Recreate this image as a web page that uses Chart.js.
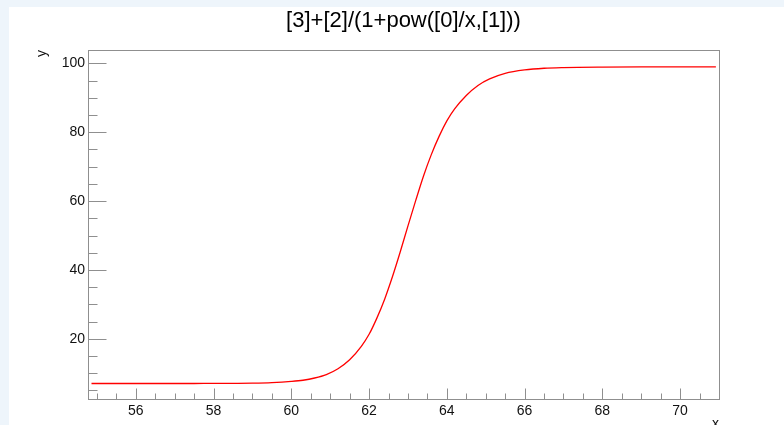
<!DOCTYPE html>
<html>
<head>
<meta charset="utf-8">
<script src="https://cdn.jsdelivr.net/npm/chart.js@4.4.1/dist/chart.umd.min.js"></script>
<style>
html,body{margin:0;padding:0;background:#eef5fb;}
#wrap{width:784px;height:425px;position:relative;}
</style>
</head>
<body>
<div id="wrap"><canvas id="c" width="784" height="425"></canvas></div>
<script>
// ---- data ----
const xValues = [54.86, 55.5, 56, 56.5, 57, 57.5, 58, 58.5, 59, 59.5, 60, 60.3, 60.6, 60.9, 61.2, 61.5, 61.8, 62.0, 62.2, 62.4, 62.6, 62.8, 63.0, 63.2, 63.4, 63.6, 63.8, 64.0, 64.2, 64.5, 64.8, 65.1, 65.5, 66, 66.5, 67, 68, 69, 70, 70.92];
const yValues = [7.0, 7.0, 7.0, 7.0, 7.0, 7.01, 7.02, 7.05, 7.1, 7.25, 7.6, 7.95, 8.6, 9.6, 11.3, 13.9, 17.8, 21.3, 26.0, 31.5, 38.0, 45.2, 52.8, 60.2, 67.3, 73.5, 78.8, 83.3, 86.8, 90.7, 93.6, 95.5, 97.1, 98.1, 98.6, 98.8, 98.95, 99.0, 99.0, 99.0];
const xTickLabels = [56, 58, 60, 62, 64, 66, 68, 70];
const yTickLabels = [20, 40, 60, 80, 100];
const titleText = '[3]+[2]/(1+pow([0]/x,[1]))';
const xAxisTitle = 'x';
const yAxisTitle = 'y';

const FONT = "'Liberation Sans', Arial, Helvetica, sans-serif";
const FRAME = '#8f8f8f';

function minorList(from, to, step) {
  const out = [];
  for (let i = 0; from + i * step <= to + 1e-9; i++) out.push(+(from + i * step).toFixed(6));
  return out;
}
const xMinor = minorList(55, 70.5, 0.5);
const yMinor = minorList(5, 100, 5);

const points = xValues.map((x, i) => ({x: x, y: yValues[i]}));

const framePlugin = {
  id: 'rootFrame',
  beforeDraw(chart) {
    const ctx = chart.ctx;
    ctx.save();
    ctx.fillStyle = '#eef5fb';
    ctx.fillRect(0, 0, chart.width, chart.height);
    ctx.fillStyle = '#ffffff';
    ctx.fillRect(9, 7, chart.width - 9, chart.height - 7);
    ctx.restore();
  },
  afterDatasetsDraw(chart) {
    const {ctx, chartArea: a, scales: {x, y}} = chart;
    ctx.save();
    ctx.strokeStyle = FRAME;
    ctx.lineWidth = 1;
    ctx.beginPath();
    x.ticks.forEach(t => {
      const px = Math.round(x.getPixelForValue(t.value)) + 0.5;
      const len = xTickLabels.includes(t.value) ? 10.5 : 5.5;
      ctx.moveTo(px, a.bottom);
      ctx.lineTo(px, a.bottom - len);
    });
    y.ticks.forEach(t => {
      const py = Math.round(y.getPixelForValue(t.value)) + 0.5;
      const len = yTickLabels.includes(t.value) ? 18.5 : 9.5;
      ctx.moveTo(a.left, py);
      ctx.lineTo(a.left + len, py);
    });
    ctx.stroke();
    ctx.strokeRect(Math.round(a.left) + 0.5, Math.round(a.top) + 0.5,
                   Math.round(a.right - a.left), Math.round(a.bottom - a.top));
    ctx.restore();
  }
};

new Chart(document.getElementById('c'), {
  type: 'scatter',
  data: {
    datasets: [{
      data: points,
      showLine: true,
      borderColor: '#ff0000',
      borderWidth: 1.3,
      pointRadius: 0,
      pointHoverRadius: 0,
      cubicInterpolationMode: 'monotone',
      fill: false
    }]
  },
  options: {
    responsive: false,
    animation: false,
    events: [],
    layout: {padding: {left: 0, right: 65, top: 0, bottom: 0}},
    plugins: {
      legend: {display: false},
      tooltip: {enabled: false},
      title: {
        display: true,
        text: titleText,
        fullSize: false,
        color: '#000',
        font: {family: FONT, size: 22, weight: 'normal', lineHeight: 1.2},
        padding: {top: 8, bottom: 15.6}
      }
    },
    scales: {
      x: {
        type: 'linear',
        min: 54.77,
        max: 71.0,
        afterBuildTicks: s => { s.ticks = xMinor.map(v => ({value: v})); },
        afterFit: s => { s.height = 26; },
        grid: {display: false, drawTicks: false},
        border: {display: false},
        ticks: {
          autoSkip: false, maxRotation: 0, minRotation: 0,
          padding: 4, color: '#111',
          font: {family: FONT, size: 14},
          callback: v => xTickLabels.includes(v) ? String(v) : ''
        },
        title: {
          display: true, text: xAxisTitle, align: 'end', color: '#111',
          font: {family: FONT, size: 14, lineHeight: 1.2},
          padding: {top: 0, bottom: -7.8}
        }
      },
      y: {
        type: 'linear',
        min: 2.5,
        max: 103.9,
        afterBuildTicks: s => { s.ticks = yMinor.map(v => ({value: v})); },
        afterFit: s => { s.width = 88; },
        grid: {display: false, drawTicks: false},
        border: {display: false},
        ticks: {
          autoSkip: false, padding: 3, color: '#111',
          font: {family: FONT, size: 14},
          callback: v => yTickLabels.includes(v) ? String(v) : ''
        },
        title: {
          display: true, text: yAxisTitle, align: 'end', color: '#111',
          font: {family: FONT, size: 14, lineHeight: 1.2},
          padding: {top: 33.4, bottom: 0}
        }
      }
    }
  },
  plugins: [framePlugin]
});
</script>
</body>
</html>
